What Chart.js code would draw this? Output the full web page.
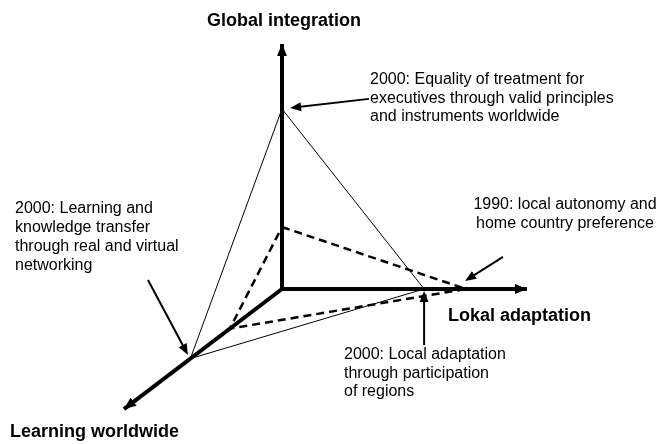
<!DOCTYPE html>
<html>
<head>
<meta charset="utf-8">
<script src="https://cdn.jsdelivr.net/npm/chart.js@4"></script>
<style>
  html, body { margin: 0; padding: 0; background: #fff; }
  canvas { display: block; }
</style>
</head>
<body>
<canvas id="myChart" width="657" height="444"></canvas>
<script>
// axes of the strategy cube: integration (up), adaptation (right), learning (towards viewer)
const axisNames = ['Global integration', 'Lokal adaptation', 'Learning worldwide'];
const axisLength = [1, 1, 1];
// position on each axis, same order as axisNames
const profile2000 = [0.735, 0.58, 0.58];
const profile1990 = [0.253, 0.751, 0.33];

// learning axis recedes to the lower left
const depth = { x: -0.645, y: -0.49 };

function onAxis(i, v) {
  if (i == 0) return { x: 0, y: v };
  if (i == 1) return { x: v, y: 0 };
  return { x: v * depth.x, y: v * depth.y };
}

function triangle(p) {
  return [onAxis(0, p[0]), onAxis(1, p[1]), onAxis(2, p[2]), onAxis(0, p[0])];
}

const origin = { x: 0, y: 0 };

// callout arrows (data space), text -> point
const callouts = [
  { from: { x: 0.355, y: 0.776 }, to: { x: 0.033, y: 0.739 } },
  { from: { x: -0.547, y: 0.037 }, to: { x: -0.384, y: -0.269 } },
  { from: { x: 0.902, y: 0.131 }, to: { x: 0.747, y: 0.033 } },
  { from: { x: 0.58, y: -0.229 }, to: { x: 0.58, y: -0.008 } }
];

const notes = [
  { lines: ['2000: Equality of treatment for', 'executives through valid principles', 'and instruments worldwide'], x: 370, y: 84, align: 'left', step: 18.5 },
  { lines: ['1990: local autonomy and', 'home country preference'], x: 565, y: 209, align: 'center', step: 19 },
  { lines: ['2000: Learning and', 'knowledge transfer', 'through real and virtual', 'networking'], x: 15, y: 213, align: 'left', step: 19 },
  { lines: ['2000: Local adaptation', 'through participation', 'of regions'], x: 344, y: 359, align: 'left', step: 18.5 }
];

const axisLabelPos = [{ x: 207, y: 26 }, { x: 448, y: 321 }, { x: 10, y: 437 }];

function arrowHead(ctx, x0, y0, x1, y1, len, half) {
  const a = Math.atan2(y1 - y0, x1 - x0);
  ctx.beginPath();
  ctx.moveTo(x1, y1);
  ctx.lineTo(x1 - len * Math.cos(a) + half * Math.sin(a), y1 - len * Math.sin(a) - half * Math.cos(a));
  ctx.lineTo(x1 - len * Math.cos(a) - half * Math.sin(a), y1 - len * Math.sin(a) + half * Math.cos(a));
  ctx.closePath();
  ctx.fill();
}

const decorations = {
  id: 'decorations',
  afterDatasetsDraw(chart) {
    const ctx = chart.ctx;
    const xs = chart.scales.x, ys = chart.scales.y;
    const px = p => ({ x: xs.getPixelForValue(p.x), y: ys.getPixelForValue(p.y) });
    ctx.save();
    ctx.fillStyle = '#000';
    ctx.strokeStyle = '#000';

    // axis arrow heads
    const o = px(origin);
    axisLength.forEach((len, i) => {
      const t = px(onAxis(i, len));
      arrowHead(ctx, o.x, o.y, t.x, t.y, 12, 5);
    });

    // callouts
    ctx.lineWidth = 2;
    callouts.forEach(c => {
      const a = px(c.from), b = px(c.to);
      const ang = Math.atan2(b.y - a.y, b.x - a.x);
      ctx.beginPath();
      ctx.moveTo(a.x, a.y);
      ctx.lineTo(b.x - 8 * Math.cos(ang), b.y - 8 * Math.sin(ang));
      ctx.stroke();
      arrowHead(ctx, a.x, a.y, b.x, b.y, 11, 4.5);
    });

    // texts
    ctx.textBaseline = 'alphabetic';
    ctx.font = '16px "Liberation Sans", Arial, sans-serif';
    notes.forEach(n => {
      ctx.textAlign = n.align;
      n.lines.forEach((l, k) => ctx.fillText(l, n.x, n.y + k * n.step));
    });
    ctx.font = 'bold 18px "Liberation Sans", Arial, sans-serif';
    ctx.textAlign = 'left';
    axisNames.forEach((name, i) => ctx.fillText(name, axisLabelPos[i].x, axisLabelPos[i].y));
    ctx.restore();
  }
};

const axisSets = axisLength.map((len, i) => ({
  label: axisNames[i],
  data: [origin, onAxis(i, len)],
  borderColor: '#000',
  borderWidth: 4,
  borderCapStyle: 'butt'
}));

const ctx = document.getElementById('myChart').getContext('2d');
const myChart = new Chart(ctx, {
  type: 'scatter',
  data: {
    datasets: [
      ...axisSets,
      {
        label: '2000',
        data: triangle(profile2000),
        borderColor: '#000',
        borderWidth: 1
      },
      {
        label: '1990',
        data: triangle(profile1990),
        borderColor: '#000',
        borderWidth: 2.5,
        borderDash: [8, 5]
      }
    ]
  },
  options: {
    responsive: false,
    animation: false,
    showLine: true,
    clip: false,
    elements: { point: { radius: 0, hoverRadius: 0 }, line: { tension: 0, fill: false } },
    layout: { padding: 0 },
    plugins: { legend: { display: false }, tooltip: { enabled: false }, title: { display: false } },
    events: [],
    scales: {
      x: { type: 'linear', display: false, min: -1.151, max: 1.5306 },
      y: { type: 'linear', display: false, min: -0.6327, max: 1.1796 }
    }
  },
  plugins: [decorations]
});
</script>
</body>
</html>
